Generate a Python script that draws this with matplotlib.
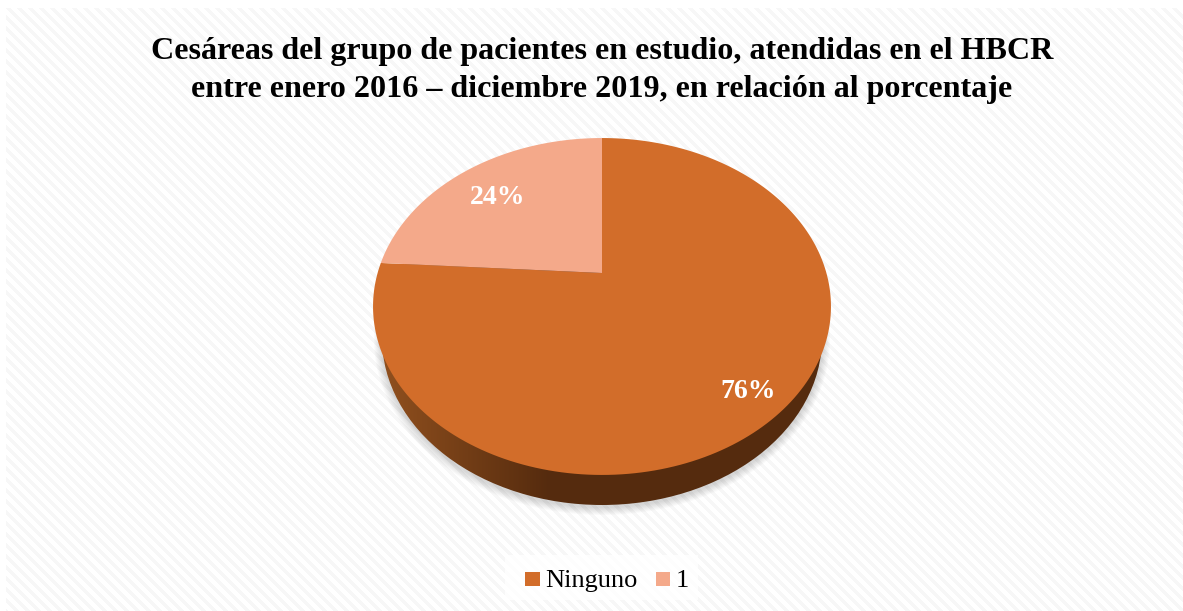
import numpy as np
import matplotlib.pyplot as plt
from matplotlib.patches import Polygon, Rectangle, Ellipse

# datos
labels = ['Ninguno', '1']
values = [76, 24]
colors = ['#D26D2A', '#F4A98A']
title_lines = ['Cesáreas del grupo de pacientes en estudio, atendidas en el HBCR',
               'entre enero 2016 – diciembre 2019, en relación al porcentaje']

plt.rcParams['font.family'] = ['Liberation Serif', 'DejaVu Serif']

fig = plt.figure(figsize=(11.83, 6.11), dpi=100)
ax = fig.add_axes([0, 0, 1, 1])  # pixeles de la imagen

# fondo rayado
xx, yy = np.meshgrid(np.arange(1177), np.arange(603))
tex = np.where((xx - yy) % 11 < 5, 0.965, 1.0)
ax.imshow(tex, cmap='gray', vmin=0, vmax=1, extent=(6, 1183, 611, 8),
          aspect='auto', interpolation='bilinear', zorder=0)
ax.set_xlim(0, 1183)
ax.set_ylim(611, 0)
ax.axis('off')

# perspectiva del pastel: el centro del circulo no cae en el centro de la elipse
cx, cy = 602, 273
k, b, a = 0.1988, 161.8, 224.4


def project(ang):
    # ang en grados, horario desde arriba
    X = np.sin(np.radians(ang))
    Y = np.cos(np.radians(ang))
    d = 1 + k * Y
    return cx + a * X / d, cy - b * Y / d


# sombra
for i in range(8):
    ax.add_patch(Ellipse((602, 340), 2 * (220 + 8 - i), 2 * (167 + 8 - i),
                         fc='#000000', ec='none', alpha=0.018, zorder=1))

# pared lateral con degradado
wall = Ellipse((602, 338), 440, 334, fc='none', ec='none', zorder=2)
ax.add_patch(wall)
grad = np.clip((np.linspace(370, 835, 465) - 385) / 165, 0, 1)
c0 = np.array([0x8F, 0x4F, 0x1E]) / 255
c1 = np.array([0x55, 0x2B, 0x0E]) / 255
img = c0 + (c1 - c0) * grad[:, None]
im = ax.imshow(img[None, :, :], extent=(370, 835, 510, 170), aspect='auto', zorder=2)
im.set_clip_path(wall)
ax.set_xlim(0, 1183)
ax.set_ylim(611, 0)

# sectores
start = 0
pcts = []
for v, col in zip(values, colors):
    sweep = 360 * v / sum(values)
    t = np.linspace(start, start + sweep, 200)
    px, py = project(t)
    pts = np.column_stack([np.r_[cx, px], np.r_[cy, py]])
    ax.add_patch(Polygon(pts, closed=True, fc=col, ec='none', zorder=3))
    pcts.append('%d%%' % round(100 * v / sum(values)))
    start += sweep

# etiquetas
ax.text(748, 391, pcts[0], color='white', fontsize=20, fontweight='bold',
        ha='center', va='center', zorder=4)
ax.text(498, 197, pcts[1], color='white', fontsize=20, fontweight='bold',
        ha='center', va='center', zorder=4)

# titulo
ax.text(602, 52, title_lines[0], color='black', fontsize=23.1, fontweight='bold',
        ha='center', va='center', zorder=4)
ax.text(602, 90, title_lines[1], color='black', fontsize=23.1, fontweight='bold',
        ha='center', va='center', zorder=4)

# leyenda
ax.add_patch(Rectangle((505, 555), 193, 45, fc='white', ec='none', alpha=0.85, zorder=3))
ax.add_patch(Rectangle((525, 572), 15, 14, fc=colors[0], ec='none', zorder=4))
ax.text(545, 581, labels[0], fontsize=19, ha='left', va='center', zorder=4)
ax.add_patch(Rectangle((656, 572), 14, 14, fc=colors[1], ec='none', zorder=4))
ax.text(676, 581, labels[1], fontsize=19, ha='left', va='center', zorder=4)

fig.savefig('out.png', dpi=100)
